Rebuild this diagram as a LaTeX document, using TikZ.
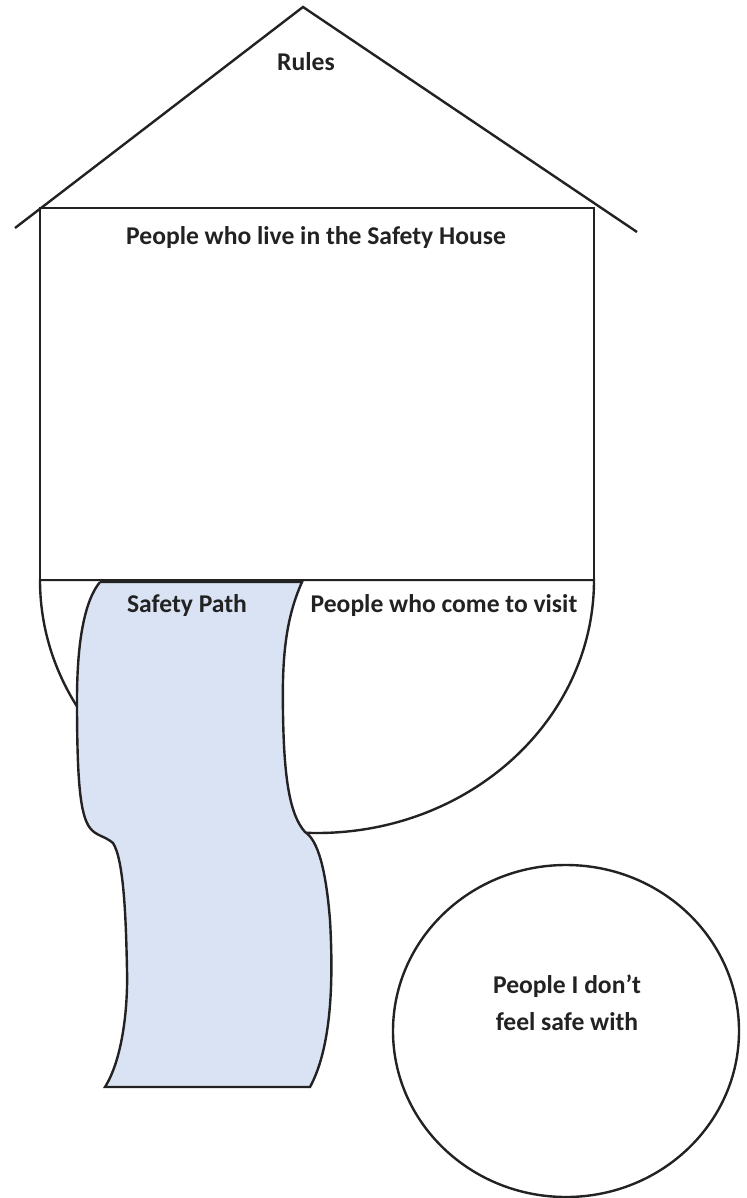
\documentclass[tikz,border=0pt]{standalone}
\usepackage{fontspec}
\setmainfont{Carlito}
\usepackage{tikz}
\usetikzlibrary{positioning}
\definecolor{pathblue}{RGB}{218,227,243}
\definecolor{inkgray}{RGB}{34,34,34}
\tikzset{
  outline/.style={line width=1.2pt, draw=inkgray},
  housetext/.style={font=\bfseries\fontsize{12.8}{18.5}\selectfont, text=inkgray, inner sep=0pt},
}

\begin{document}
\begin{tikzpicture}[x=0.5pt, y=-0.5pt]
    \useasboundingbox (0,0) rectangle (746,1198);

    % Visitors area (lower half ellipse)
    \draw[outline, fill=white] (40,580) arc[start angle=180, end angle=0, x radius=277, y radius=253] -- cycle;

    % Safety path
    \draw[outline, fill=pathblue] (100,582) -- (302,582)
        .. controls (285,620) and (282,660) .. (283,713)
        .. controls (284,780) and (290,815) .. (305,832)
        .. controls (318,840) and (326,870) .. (330,920)
        .. controls (334,990) and (330,1050) .. (310,1087)
        -- (105,1087)
        .. controls (122,1060) and (128,1010) .. (127,970)
        .. controls (126,920) and (124,860) .. (113,843)
        .. controls (105,836) and (96,836) .. (90,828)
        .. controls (80,815) and (77,780) .. (77,700)
        .. controls (77,640) and (85,600) .. (100,582);

    % House
    \draw[outline, fill=white] (40,208) rectangle (594,580);

    % Roof
    \draw[outline] (15,228) -- (303,7) -- (637,232);

    % Unsafe circle
    \draw[outline] (566,1031) ellipse[x radius=173, y radius=166];

    % Labels
    \node[housetext] (rules) at (306,62) {Rules};
    \node[housetext] (live) at (316,238) {People who live in the Safety House};
    \node[housetext] (safepath) at (187,606) {Safety Path};
    \node[housetext] (visit) at (444,606) {People who come to visit};
    \node[housetext, align=center] (unsafe) at (567,1003) {People I don't\\feel safe with};
\end{tikzpicture}
\end{document}
